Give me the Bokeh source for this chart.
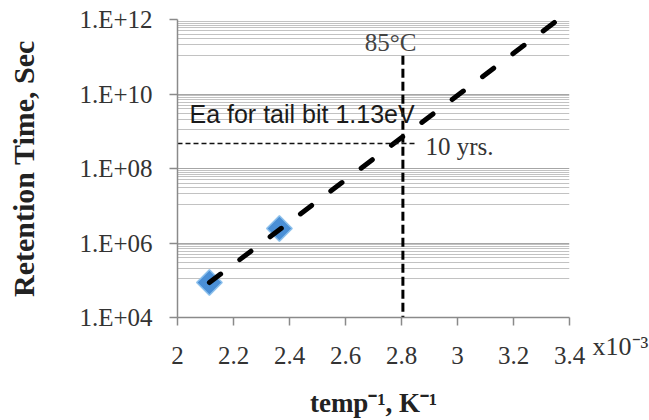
import math
from bokeh.plotting import figure
from bokeh.layouts import row
from bokeh.models import FixedTicker, CustomJSTickFormatter, Label
from bokeh.embed import file_html
from bokeh.resources import INLINE

# ---- data ----
inv_temp = [2.114, 2.364]            # 1/T  (x10^-3 K^-1)
retention = [8.7e4, 2.45e6]          # retention time, s
fit_inv_temp = [2.114, 3.36]         # Arrhenius fit, Ea = 1.13 eV
fit_retention = [8.7e4, 1.0e12]
t85_inv_temp = 2.805                 # 85 degC
t85_retention = [1.07e11, 1.0e4]
ten_years_s = 4.7e8                  # 10 yrs level
ten_years_inv_temp = [2.0, 2.85]

x_ticks = [2.0, 2.2, 2.4, 2.6, 2.8, 3.0, 3.2, 3.4]
x_tick_labels = ["2", "2.2", "2.4", "2.6", "2.8", "3", "3.2", "3.4"]
x_scale_label = "x10\u207b\u00b3"
y_ticks = [1e4, 1e6, 1e8, 1e10, 1e12]
y_tick_labels = ["1.E+04", "1.E+06", "1.E+08", "1.E+10", "1.E+12"]

# Excel-style minor grid on a base-100 log axis (linear steps between majors)
y_minor = [L + k * (100 * L - L) / 10 for L in y_ticks[:-1] for k in range(1, 10)]

SERIF = "Liberation Serif"
SANS = "Liberation Sans"

p = figure(width=591, height=420, x_range=(2.0, 3.4), y_range=(1e4, 1e12),
           y_axis_type="log", output_backend="svg", toolbar_location=None,
           min_border_left=177, min_border_right=22, min_border_top=19,
           min_border_bottom=103)
p.outline_line_color = None
p.xgrid.grid_line_color = None

yt = FixedTicker(ticks=y_ticks, minor_ticks=y_minor)
p.yaxis.ticker = yt
p.ygrid.ticker = yt
p.ygrid.grid_line_color = "#a6a6a6"
p.ygrid.grid_line_width = 1
p.ygrid.minor_grid_line_color = "#c2c2c2"
p.ygrid.minor_grid_line_width = 1

p.xaxis.ticker = FixedTicker(ticks=x_ticks)
p.xaxis.formatter = CustomJSTickFormatter(args=dict(tvals=x_ticks, tlabels=x_tick_labels), code="""
const i = tvals.findIndex(t => Math.abs(t - tick) < 1e-6);
return i >= 0 ? tlabels[i] : "";
""")
p.yaxis.formatter = CustomJSTickFormatter(args=dict(tvals=y_ticks, tlabels=y_tick_labels), code="""
const i = tvals.findIndex(t => Math.abs(Math.log10(t) - Math.log10(tick)) < 1e-6);
return i >= 0 ? tlabels[i] : "";
""")

for ax in (p.xaxis[0], p.yaxis[0]):
    ax.axis_line_color = "#8a8a8a"
    ax.axis_line_width = 1.5
    ax.major_tick_line_color = "#8a8a8a"
    ax.major_tick_line_width = 1.5
    ax.major_tick_in = 0
    ax.major_tick_out = 8
    ax.minor_tick_line_color = None
    ax.major_label_text_font = SERIF
    ax.major_label_text_font_size = "25px"
    ax.major_label_text_color = "#333333"
    ax.axis_label_text_font = SERIF
    ax.axis_label_text_font_style = "bold"
    ax.axis_label_text_color = "#222222"
p.yaxis.major_label_standoff = 17
p.xaxis.major_label_standoff = 21

p.yaxis.axis_label = "Retention Time, Sec"
p.yaxis.axis_label_text_font_size = "30px"
p.yaxis.axis_label_standoff = 36
p.xaxis.axis_label = "temp\u207b\u00b9, K\u207b\u00b9"
p.xaxis.axis_label_text_font_size = "27px"
p.xaxis.axis_label_standoff = 21

# measured points
p.scatter(inv_temp, retention, marker="square", angle=math.pi / 4, size=18,
          fill_color="#4a8fd6", line_color="#8cc0ec", line_width=1.5)
# Arrhenius fit
p.line(fit_inv_temp, fit_retention, line_color="black", line_width=5,
       line_dash="14 24", line_cap="round")
# 85 degC line
p.line([t85_inv_temp, t85_inv_temp], t85_retention, line_color="black",
       line_width=3, line_dash="9 4")
# 10 yrs line
p.line(ten_years_inv_temp, [ten_years_s, ten_years_s], line_color="#111111",
       line_width=1.5, line_dash="5 3")

def lab(text, x, y, size, font=SERIF, align="left", color="#333333"):
    p.add_layout(Label(x=x, y=y, x_units="screen", y_units="screen", text=text,
                       text_font=font, text_font_size=size,
                       text_align=align, text_baseline="alphabetic",
                       text_color=color))

# annotations (screen px relative to the plot frame's bottom-left)
lab("85°C", 213, 275, "25px", align="center", color="#444444")
lab("Ea for tail bit 1.13eV", 12, 204, "25px", font=SANS, color="#1a1a1a")
lab("10 yrs.", 248, 171, "25px")

# narrow companion canvas whose bottom axis carries the x10^-3 scale factor
q = figure(width=58, height=420, x_range=(0, 1), y_range=(0, 1),
           output_backend="svg", toolbar_location=None, y_axis_location=None,
           min_border_left=0, min_border_right=0, min_border_top=19,
           min_border_bottom=103)
q.outline_line_color = None
q.grid.visible = False
q.xaxis.ticker = FixedTicker(ticks=[0.5])
q.xaxis.formatter = CustomJSTickFormatter(args=dict(txt=x_scale_label),
                                          code="return txt;")
q.xaxis.axis_line_color = None
q.xaxis.major_tick_line_color = None
q.xaxis.minor_tick_line_color = None
q.xaxis.major_tick_out = 0
q.xaxis.major_tick_in = 0
q.xaxis.major_label_standoff = 14
q.xaxis.major_label_text_font = SERIF
q.xaxis.major_label_text_font_size = "26px"
q.xaxis.major_label_text_color = "#333333"

open("out.html", "w").write(file_html(row(p, q, spacing=0), INLINE))
